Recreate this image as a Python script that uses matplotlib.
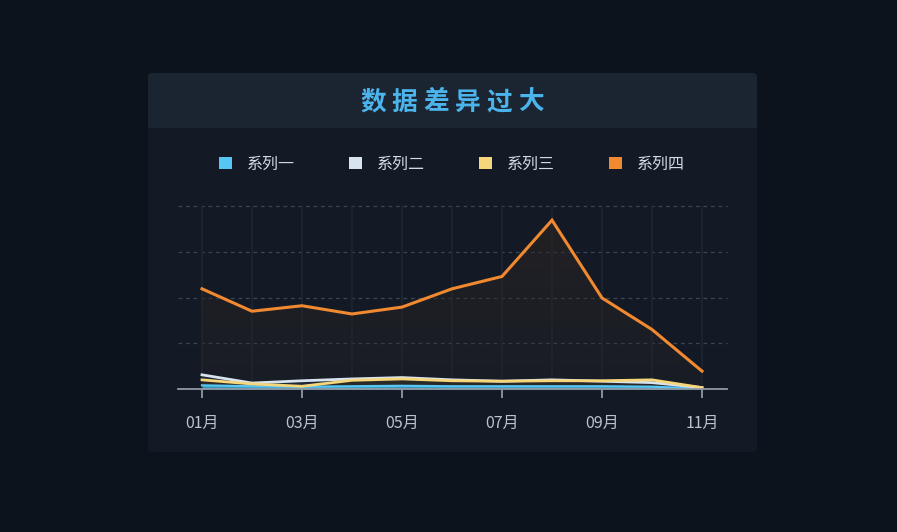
import matplotlib
matplotlib.use("Agg")
import matplotlib.pyplot as plt
import numpy as np
from matplotlib.patches import FancyBboxPatch, Rectangle, Patch

plt.rcParams['font.family'] = ['Noto Sans CJK SC', 'DejaVu Sans']

months = ['01月', '02月', '03月', '04月', '05月', '06月', '07月', '08月', '09月', '10月', '11月']
series_names = ['系列一', '系列二', '系列三', '系列四']
title = '数据差异过大'
s1 = [8, 6, 5, 6, 7, 6, 6, 6, 6, 5, 1]
s2 = [31, 13, 18, 22, 25, 20, 17, 20, 17, 14, 3]
s3 = [20, 11, 6, 19, 22, 18, 17, 18, 18, 20, 3]
s4 = [219, 170, 182, 164, 179, 219, 246, 369, 199, 130, 39]
colors = ['#56c6f5', '#d7e3ef', '#f6d67a', '#f0892f']

W, H = 897, 532
fig = plt.figure(figsize=(W / 100, H / 100), dpi=100)
fig.patch.set_facecolor('#0c131d')

def fx(x):
    return x / W

def fy(y):
    return 1 - y / H

# card body
fig.patches.append(FancyBboxPatch((fx(148), fy(452)), fx(757) - fx(148), fy(73) - fy(452),
                                  boxstyle='round,pad=0,rounding_size=0.006',
                                  transform=fig.transFigure, facecolor='#131a25',
                                  edgecolor='none', zorder=0))
# header band
fig.patches.append(FancyBboxPatch((fx(148), fy(128)), fx(757) - fx(148), fy(73) - fy(128),
                                  boxstyle='round,pad=0,rounding_size=0.006',
                                  transform=fig.transFigure, facecolor='#1b2531',
                                  edgecolor='none', zorder=0))
fig.patches.append(Rectangle((fx(148), fy(128)), fx(757) - fx(148), fy(115) - fy(128),
                             transform=fig.transFigure, facecolor='#1b2531',
                             edgecolor='none', zorder=0))

# title with letter spacing
pitch = 31.6
start = 452 - pitch * (len(title) - 1) / 2
for i, ch in enumerate(title):
    fig.text(fx(start + i * pitch), fy(102), ch, color='#4cb4ec', fontsize=18.5,
             fontweight='bold', ha='center', va='center', style='italic', zorder=3)

ax = fig.add_axes([fx(178), fy(389), fx(727) - fx(178), fy(206) - fy(389)])
ax.set_zorder(2)
ax.set_facecolor('none')
x = np.arange(len(months))
ax.set_xlim(-0.48, 10.5)
ax.set_ylim(0, 400)

# grid
for yv in [100, 200, 300, 400]:
    ax.axhline(yv, color='#3a4656', lw=0.9, ls=(0, (3, 3)), zorder=1, clip_on=False)
for xv in x:
    ax.axvline(xv, color='#1c2531', lw=1.2, zorder=1)

# orange gradient fill
verts_x = np.concatenate([x, x[::-1]])
verts_y = np.concatenate([s4, np.zeros(len(x))])
poly = ax.fill(verts_x, verts_y, facecolor='none', edgecolor='none')[0]
grad = np.linspace(1, 0, 256).reshape(-1, 1)
rgba = np.zeros((256, 1, 4))
rgba[..., 0] = 0.18
rgba[..., 1] = 0.15
rgba[..., 2] = 0.14
rgba[..., 3] = 0.2 + 0.4 * grad
im = ax.imshow(rgba, extent=[-0.48, 10.5, 0, 400], aspect='auto', origin='upper', zorder=2)
im.set_clip_path(poly)

# small series fills
ax.fill_between(x, s2, color='#1d2836', alpha=0.9, zorder=2.5, lw=0)
ax.fill_between(x, s3, color='#2b2b26', alpha=0.9, zorder=2.6, lw=0)
ax.fill_between(x, s1, color='#3a9fc8', alpha=0.9, zorder=2.7, lw=0)

ax.plot(x, s1, color=colors[0], lw=1.6, zorder=4)
ax.plot(x, s2, color=colors[1], lw=2, zorder=4)
ax.plot(x, s3, color=colors[2], lw=2, zorder=4.1)
ax.plot(x, s4, color=colors[3], lw=2.2, zorder=5, solid_joinstyle='miter')

for sp in ['top', 'right', 'left']:
    ax.spines[sp].set_visible(False)
ax.spines['bottom'].set_color('#8e9aa6')
ax.spines['bottom'].set_linewidth(1.3)
ax.spines['bottom'].set_zorder(6)
ax.set_yticks([])
ax.set_xticks(x[::2])
ax.set_xticklabels(months[::2])
ax.tick_params(axis='x', colors='#8e9aa6', length=6.5, width=1.3, direction='out',
               labelcolor='#b9c3ce', labelsize=11.5, pad=12.3)

handles = [Patch(facecolor=c, edgecolor='none') for c in colors]
leg = fig.legend(handles, series_names, loc='center', bbox_to_anchor=(fx(452), fy(164)),
                 ncol=4, frameon=False, fontsize=11.5, handlelength=0.81, handleheight=0.81,
                 handletextpad=0.94, columnspacing=3.4, labelcolor='#d3dae2')

fig.savefig('out.png', dpi=100, facecolor=fig.get_facecolor())
